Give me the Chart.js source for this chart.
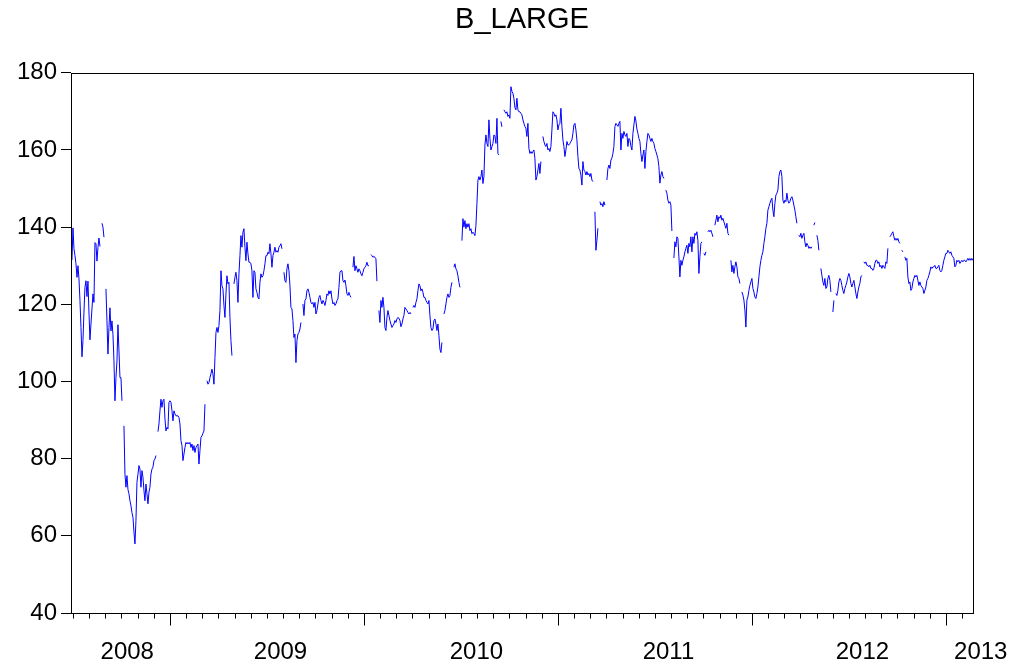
<!DOCTYPE html>
<html>
<head>
<meta charset="utf-8">
<title>B_LARGE</title>
<script src="https://cdn.jsdelivr.net/npm/chart.js@4.4.1/dist/chart.umd.min.js"></script>
<style>
  html, body { margin: 0; padding: 0; background: #fff; }
  #wrap { width: 1013px; height: 668px; }
</style>
</head>
<body>
<div id="wrap"><canvas id="chart" width="1013" height="668"></canvas></div>
<script>
const seriesName = 'B_LARGE';

// evenly spaced observations, first one at the end of June 2008
const firstObs = 2008.495;
const obsPerYear = 194;

// null = missing observation (breaks the line)
const values = [
  131.5, 139.8, 134.4, 132.6, 130.5, 127, 130, 126.6, 121, 114,
  106.4, 110.6, 118, 124.4, 126.1, 122, 126, 118, 110.8, 114.9,
  118.8, 122.7, 120.5, 136, 135.7, 131.2, 134.7, 137.2, 135, null,
  141, 140, 137.4, null, 124, 115.7, 107.1, 114, 119.1, 113.1,
  115.7, 112.2, 105.3, 95, 101, 105.3, 114.7, 107.9, 101, 101,
  95, null, 88.5, 76, 72.6, 75.6, 72, 70.9, 69.1, 67.8,
  66, 64.8, 61, 57.9, 64, 73.9, 76, 78.2, 77.3, 72.6,
  76.9, 75.2, 71.7, 69.1, 73.4, 70.9, 68.3, 71.3, 72.6, 76,
  77.3, 77.8, 79.5, 79.9, 80.8, null, 87, 89, 92.4, 95.4,
  93.3, 95, 95.4, 90.3, 87.2, 88.1, 87.7, 94.6, 95, 94.6,
  92.4, 89.8, 92.4, 91.6, 91.1, 91.1, 91.1, 90.7, 89, 84.7,
  83.4, 79.5, 81.2, 82.9, 84.2, 83.8, 84.2, 83.8, 84.2, 82.9,
  83.8, 82.1, 83.4, 81.6, 82.9, 83.4, 83.8, 78.6, 82.1, 85.5,
  85.9, 86.6, 87.2, 94.1, null, 100.2, 99.3, 99.7, 101, 102,
  103.2, 101.9, 99.3, 106.2, 112.7, 114, 112.7, 114.5, 118.4, 128.7,
  124.8, 124, 119.7, 116.6, 122.7, 127.4, 125.3, 125.7, 116.6, 110.6,
  106.7, null, 125.3, 127, 128.3, 126.1, 120.5, 127.9, 132.6, 137.8,
  134.8, 138.7, 139.6, 134.8, 131.3, 136.1, 133.1, 130.9, 130.9, 130.5,
  128.7, 121.8, 128.7, 128.3, 124, 123.1, 121.8, 121.4, 125.7, 127.9,
  127, 127.4, 128.7, 130.5, 132.6, 132.6, 133.5, 133.1, 135.7, 133.1,
  129.6, 132.6, 133.5, 134.8, 133.5, 133.9, 133.5, 134.8, 135.2, 135.7,
  134.4, null, 128.3, 126.1, 125.7, 129.2, 130.5, 128.7, 124.8, 119.2,
  118.8, 115.8, 111.4, 112.3, 104.9, 110.6, 112.3, 112.7, 113.6, 115.3,
  null, 120.1, 117.1, 121, 121.4, 123.5, 124, 123.1, 121.8, 120.5,
  120.1, 120.5, 119.2, 120.5, 117.5, 118.4, 120.1, 121.8, 122.3, 121,
  120.1, 121, 120.5, 119.7, 121, 122.7, 122.3, 123.5, 122.7, 123.5,
  121.4, 120.1, 120.5, 119.7, 120.1, 121, 121.4, 124.4, 128.3, 128.7,
  128.7, 126.1, 125.7, 126.3, 124.8, 122.7, 122.3, 123.1, 122.3, 121.8,
  null, 129.6, 132.4, 128.7, 130, 129.2, 128.3, 129.2, 128.7, 127.9,
  127.4, 128.3, 129.2, 129.6, 130, 130.9, 130, 130, null, 132.9,
  132.6, 132.2, 132.4, 132.2, 131.8, 126, null, 118.4, 115.3, 121,
  119.2, 121.8, 119.2, 114, 113.2, 116.6, 118.4, 117.1, 115.8, 114.9,
  114, 114.5, 114.9, 115.8, 115.3, 116.2, 116.6, 116.4, 115.8, 114.2,
  114.9, 116.2, 117.1, 119.2, 118.8, 118.4, 117.9, 117.5, 117.9, 117.5,
  null, 119.2, 119.7, 119.2, 120.5, 121.4, 123.5, 125.3, 124.8, 123.5,
  124, 123.1, 121.8, 121.8, 121, 120.5, 120.1, 121, 117.1, 114,
  113.2, 113.6, 115.8, 116.2, 114.9, 113.2, 114.9, 111.9, 108.4, 107.5,
  110.1, null, 117.5, 118.4, 120.1, 121.8, 122.7, 121.8, 122.3, 124.4,
  125.7, null, 129.6, 130.5, 129.2, 128.7, 127.4, 125.7, 124.4, null,
  136.5, 142.2, 140, 141.7, 139.6, 140.9, 140, 140.9, 139.1, 139.6,
  138.3, 138.7, 138.3, 137.8, 140.4, 146.1, 152.2, 153.1, 152.2, 153.1,
  154.8, 151.3, 153.1, 161.3, 163.9, 161.7, 160.9, 167.8, 163, 160,
  160.9, 161.7, 163.9, 163.5, 161.7, 168.2, 159.1, 158.7, null, 167.4,
  166, null, 170.4, 169.9, 169.5, 169.9, 168.7, 169.1, 168.2, 176.4,
  175.2, 174.7, 173.4, 171, 170.4, 173.4, 170.4, 169.9, 169.9, 169.5,
  169.1, 167.8, 166.9, 166.1, 165.6, 163.5, 166.9, 160.4, 159.1, 159.6,
  159.1, 159.6, 160, 157.8, 152.2, 153.1, 154.8, 156.5, 153.9, 157,
  null, 163.5, 162.2, 161.3, 160.9, 161.7, 160, 160.4, 159.6, 160.9,
  165.2, 169.9, 169.5, 168.7, 169.1, 167.8, 165.2, 166.5, 166.9, 170.8,
  166.1, 162.6, 160.9, 158.3, 160, 162.2, 161.3, 161.3, 161.7, 162.2,
  162.6, 164.3, 166.5, 166.9, 165.2, 162.6, 158.3, 155.2, 154.8, 153.5,
  150.9, 157, 154.8, 154.4, 153.5, 154.4, 153.5, 153.9, 153.1, 153.9,
  152.2, 151.8, null, 144, 134, 136.6, 139.7, null, 146.6, 145.7,
  146.1, 145.3, 146.6, 145.7, null, 152.2, 155.2, 156.1, 155.2, 157.4,
  157.9, 159.1, 160.9, 166.1, 166.9, 166.5, 166.1, 166.9, 167.4, 160,
  164.3, 163, 164.8, 163.9, 163.5, 164.3, 160.9, 163, 162.6, 161,
  160, 164.3, 166.5, 168.7, 167.5, 165.4, 164.3, 163, 162.2, 159.1,
  157, 158.7, 160, 155.2, 159.6, 162.2, 164.3, 163.9, 163, 162.2,
  163, 162.2, 161.7, 160.4, 159.6, 158.7, 157.8, 155.7, 151.4, 153.5,
  154.4, 153.1, 152.6, null, 149.6, 148.8, 147, 146.2, 146.6, 145.7,
  139, null, 132, 136.2, 134.9, 137.5, 137.1, 132.3, 127.1, 131.4,
  130.1, 131.4, 132.3, 133.6, 134.5, 135.3, 133.2, 135.8, 134.9, 137.5,
  133.6, 137.5, 135.8, 138.4, 137.9, 138.8, 136.6, 128, 132.3, 135.8,
  136.2, null, 133.2, 132.7, 133.6, null, 138.8, 139.2, 138.8, 139.2,
  138.4, 137.5, null, 140.5, 141.8, 143.1, 141.4, 142.7, 142.3, 143.1,
  141.8, 142.3, 141.4, 140.5, 139.7, 141, 138.4, 137.9, null, 131.4,
  128.4, 130.1, 128, 129.7, 131, 129.7, 127.1, 126.7, 125.4, null,
  123.2, 122.4, 121.1, 118.5, 114.1, 121.1, 121.9, 123.6, 124.9, 125.8,
  126.7, 124.1, 123.2, 121.9, 121.5, 122.8, 124.5, 127.1, 129.7, 131.4,
  132.7, 133.6, 135.8, 137.5, 139.7, 141, 144.4, 145.3, 146.2, 147,
  147.5, 144.4, 142.7, 146.2, 148.3, 148.8, 149.6, 153.1, 154.4, 154.8,
  153.1, 147, 146.2, 147, 146.6, 148.8, 147, 146.2, 146.6, 147.5,
  147.9, 147, 145.7, 144.4, 142.7, 141, null, 137.9, 137.5, 138.4,
  137.1, 137.9, 138.4, 136.2, 134.9, 135.8, 135.3, 134.5, 134.9, 134.5,
  134.9, null, 140.5, 141.2, null, 137.9, 136.6, 134, null, 129.3,
  127.5, 125.8, 124.9, 126.7, 124.1, 124.5, 126.7, 127.5, 126.2, 123.2,
  null, 118, 121, null, 122.8, 122.3, 123.6, 125.8, 126.7, 126.2,
  124.9, 123.6, 122.8, 124.1, 124.9, 125.8, 127.1, 128, 127.1, 125.4,
  124.5, 125.4, 126.2, 124.5, 122.8, 121.5, 123.2, 124.5, 125.4, 127.1,
  127.5, null, 131, 130.6, 131, 130.1, 130.1, 129.7, 130.1, 129.3,
  129.3, 128.8, 129.3, 130.6, 131.4, 131.4, 130.6, 131, 129.7, 130.1,
  129.3, 130.1, 129.7, 129.3, 131, 130.6, 134.5, null, 137.5, 137.9,
  138.4, 138.8, 137.5, 136.6, 137.1, 136.6, 137.1, 136.2, 135.8, null,
  134, 133.6, null, 132.3, 131.4, 131.9, 127.1, 125.4, 125.8, 123.6,
  124.1, 125.8, 126.7, 127.5, 127.1, 127.5, 126.2, 124.9, 125.8, 124.9,
  124.5, 124.1, 122.8, 123.6, 124.5, 126.2, 126.7, 127.5, 128.4, 129.7,
  129.3, 129.7, 129.7, 130.1, 129.3, 129.3, 129.7, 130.1, 128.8, 128.4,
  128.8, 130.1, 131.4, 132.3, 133.2, 133.2, 134, 133.6, 133.2, 133.6,
  132.7, 132.3, 131.9, 129.7, 130.1, 131.4, 131, 131.4, 130.6, 131,
  131.4, 131, 131.4, 131.4, 131, 131.4, 131.9, 131.4, 131.9, 131.4,
  131.9, 131.4
];

const xMin = 2008.49;
const xMax = 2013.14;
const yMin = 40;
const yMax = 180;
const yStep = 20;

const yearLabels = ['2008', '2009', '2010', '2011', '2012', '2013'];
const yearLabelAt = [2008.78, 2009.57, 2010.58, 2011.57, 2012.57, 2013.18];

const fontFamily = '"Liberation Sans", Arial, sans-serif';

const points = values.map((v, i) => ({ x: firstObs + i / obsPerYear, y: v }));

// box around the plot, monthly ticks (longer at year starts) and year names
const frameAndDates = {
  id: 'frameAndDates',
  afterDraw(chart) {
    const ctx = chart.ctx;
    const a = chart.chartArea;
    const x = chart.scales.x;
    ctx.save();
    ctx.strokeStyle = '#000';
    ctx.lineWidth = 1;
    const l = Math.round(a.left) + 0.5, r = Math.round(a.right) + 0.5;
    const t = Math.round(a.top) + 0.5, b = Math.round(a.bottom) + 0.5;
    ctx.strokeRect(l, t, r - l, b - t);

    ctx.beginPath();
    for (let m = Math.ceil(xMin * 12); m <= Math.floor(xMax * 12); m++) {
      const px = Math.round(x.getPixelForValue(m / 12)) + 0.5;
      const len = m % 12 === 0 ? 12 : 5;
      ctx.moveTo(px, b);
      ctx.lineTo(px, b + len);
    }
    ctx.stroke();

    ctx.fillStyle = '#000';
    ctx.font = '24px ' + fontFamily;
    ctx.textAlign = 'center';
    ctx.textBaseline = 'middle';
    yearLabels.forEach((lab, i) => {
      ctx.fillText(lab, x.getPixelForValue(yearLabelAt[i]), b + 39);
    });
    ctx.restore();
  }
};

new Chart(document.getElementById('chart'), {
  type: 'line',
  data: {
    datasets: [{
      label: seriesName,
      data: points,
      borderColor: '#0000ff',
      borderWidth: 1,
      pointRadius: 0,
      tension: 0,
      spanGaps: false,
      fill: false
    }]
  },
  options: {
    responsive: false,
    animation: false,
    events: [],
    layout: { padding: { left: 0, right: 40, top: 0, bottom: 0 } },
    plugins: {
      legend: { display: false },
      tooltip: { enabled: false },
      title: {
        display: true,
        text: seriesName,
        fullSize: false,
        color: '#000',
        font: { family: fontFamily, size: 29, weight: 'normal' },
        padding: { top: 3, bottom: 35 }
      }
    },
    scales: {
      x: {
        type: 'linear',
        min: xMin,
        max: xMax,
        ticks: { display: false },
        grid: { display: false },
        border: { display: false },
        afterFit(s) { s.height = 55; }
      },
      y: {
        min: yMin,
        max: yMax,
        ticks: {
          stepSize: yStep,
          color: '#000',
          font: { family: fontFamily, size: 24 },
          padding: 4
        },
        grid: { drawOnChartArea: false, drawTicks: true, tickLength: 10, color: '#000' },
        border: { display: false },
        afterFit(s) { s.width = 71; }
      }
    }
  },
  plugins: [frameAndDates]
});
</script>
</body>
</html>
